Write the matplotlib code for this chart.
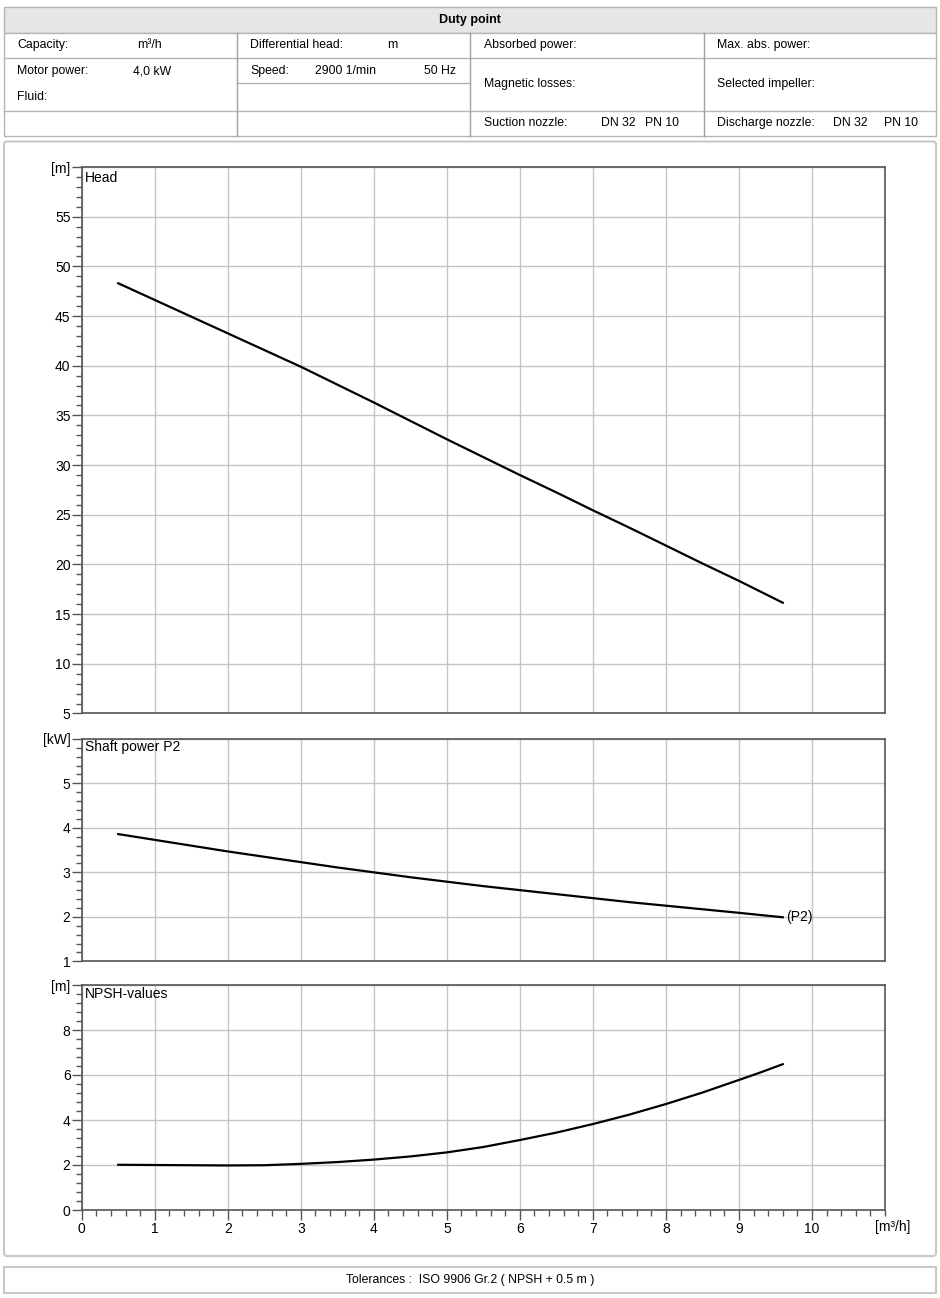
import matplotlib
matplotlib.use('Agg')
import matplotlib.pyplot as plt
from matplotlib.patches import Rectangle, FancyBboxPatch
from matplotlib.ticker import MultipleLocator

plt.rcParams['font.family'] = ['Liberation Sans', 'DejaVu Sans']

# curve data
flow = [0.5, 1, 1.5, 2, 2.5, 3, 3.5, 4, 4.5, 5, 5.5, 6, 6.5, 7, 7.5, 8, 8.5, 9, 9.3, 9.6]
head = [48.3, 46.62, 44.94, 43.26, 41.58, 39.9, 38.1, 36.3, 34.45, 32.6,
        30.8, 29.0, 27.25, 25.45, 23.7, 21.9, 20.1, 18.35, 17.25, 16.15]
power = [3.86, 3.73, 3.60, 3.47, 3.35, 3.23, 3.11, 3.00, 2.89, 2.79,
         2.69, 2.60, 2.51, 2.42, 2.33, 2.25, 2.17, 2.09, 2.04, 1.99]
npsh = [2.01, 2.00, 1.99, 1.98, 1.99, 2.05, 2.13, 2.24, 2.38, 2.56,
        2.80, 3.11, 3.44, 3.82, 4.24, 4.71, 5.22, 5.78, 6.12, 6.48]

W, H = 940, 1298
fig = plt.figure(figsize=(W / 100, H / 100), dpi=100)

# overlay in pixel coords for the table / frames
bg = fig.add_axes([0, 0, 1, 1])
bg.set_xlim(0, W)
bg.set_ylim(H, 0)
bg.axis('off')

edge = '#b4b4b4'
bg.add_patch(Rectangle((4, 7), 932, 25.5, facecolor='#e6e6e6', edgecolor=edge, lw=1))
bg.add_patch(Rectangle((4, 32.5), 932, 103, facecolor='white', edgecolor=edge, lw=1))
bg.text(470, 19.5, 'Duty point', ha='center', va='center', fontsize=9, fontweight='bold')

# table lines
hl = [(58.3, 4, 936), (83.3, 237, 470), (110.7, 4, 936)]
for y, x0, x1 in hl:
    bg.plot([x0, x1], [y, y], color=edge, lw=1)
for x in (237, 470, 704):
    bg.plot([x, x], [32.5, 135.5], color='#a0a0a0', lw=1)

cells = [
    (17, 45, 'Capacity:'), (137, 45, 'm³/h'),
    (250, 45, 'Differential head:'), (387, 45, 'm'),
    (484, 45, 'Absorbed power:'), (717, 45, 'Max. abs. power:'),
    (17, 71, 'Motor power:'), (133, 71, '4,0 kW'),
    (250, 71, 'Speed:'), (315, 71, '2900 1/min'), (424, 71, '50 Hz'),
    (17, 97, 'Fluid:'),
    (484, 84, 'Magnetic losses:'), (717, 84, 'Selected impeller:'),
    (484, 123, 'Suction nozzle:'), (601, 123, 'DN 32'), (645, 123, 'PN 10'),
    (717, 123, 'Discharge nozzle:'), (833, 123, 'DN 32'), (884, 123, 'PN 10'),
]
for x, y, s in cells:
    bg.text(x, y, s, ha='left', va='center', fontsize=8.8)

# chart frame and footer
bg.add_patch(FancyBboxPatch((4, 141.5), 932, 1114.5, boxstyle='round,pad=0,rounding_size=3',
                            facecolor='none', edgecolor='#c8c8c8', lw=1.5))
bg.add_patch(Rectangle((4, 1267), 932, 25.5, facecolor='none', edgecolor='#c8c8c8', lw=1.5))
bg.text(470, 1280, 'Tolerances :  ISO 9906 Gr.2 ( NPSH + 0.5 m )', ha='center', va='center', fontsize=8.8)


def px_axes(top, bottom, left=81.7, right=885):
    return fig.add_axes([left / W, 1 - bottom / H, (right - left) / W, (bottom - top) / H])


def style(ax, ylo, yhi, ystep, yminor, unit, title, show_x):
    ax.set_xlim(0, 11)
    ax.set_ylim(ylo, yhi)
    ax.set_xticks(range(0, 11))
    ax.xaxis.set_minor_locator(MultipleLocator(0.2))
    yt = list(range(ylo, yhi + 1, ystep))
    ax.set_yticks(yt)
    ax.set_yticklabels([str(v) for v in yt[:-1]] + [unit])
    ax.yaxis.set_minor_locator(MultipleLocator(yminor))
    ax.grid(True, which='major', color='#c4c4c4', lw=1)
    for sp in ax.spines.values():
        sp.set_color('#555555')
        sp.set_linewidth(1.2)
    ax.tick_params(axis='y', which='major', length=7, width=1, color='#555555', labelsize=10, pad=1)
    ax.tick_params(axis='y', which='minor', length=4, width=1, color='#555555')
    if show_x:
        ax.tick_params(axis='x', which='major', length=7, width=1, color='#555555', labelsize=10, pad=1.5)
        ax.tick_params(axis='x', which='minor', length=4, width=1, color='#555555')
    else:
        ax.tick_params(axis='x', which='both', length=0, labelbottom=False)
    ax.text(0.004, 0.993, title, transform=ax.transAxes, ha='left', va='top', fontsize=10)


ax1 = px_axes(167, 713.5)
ax1.plot(flow, head, color='black', lw=1.6)
style(ax1, 5, 60, 5, 1, '[m]', 'Head', False)

ax2 = px_axes(738.9, 961.3)
ax2.plot(flow, power, color='black', lw=1.6)
style(ax2, 1, 6, 1, 0.2, '[kW]', 'Shaft power P2', False)
ax2.text(flow[-1] + 0.05, power[-1], '(P2)', ha='left', va='center', fontsize=10)

ax3 = px_axes(985, 1210)
ax3.plot(flow, npsh, color='black', lw=1.6)
style(ax3, 0, 10, 2, 0.4, '[m]', 'NPSH-values', True)
ax3.text(11.11, -0.74, '[m³/h]', ha='center', va='center', fontsize=10)

fig.savefig('out.png', dpi=100)
